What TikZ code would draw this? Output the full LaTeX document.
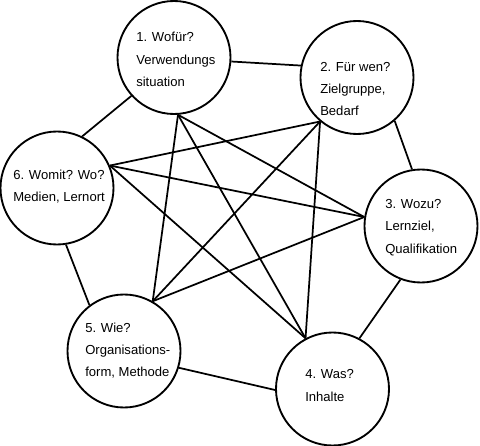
\documentclass[tikz,border=0pt]{standalone}
\usepackage{fontspec}
\setmainfont{Liberation Sans}

\begin{document}
\begin{tikzpicture}[x=0.75pt,y=-0.75pt,
  bubble/.style={draw,circle,line width=1.4pt,minimum size=84.75pt,inner sep=0pt},
  qtext/.style={anchor=west,align=left,inner sep=0pt,font=\fontsize{9.8}{16.7}\selectfont},
  link/.style={line width=1.3pt}]
\useasboundingbox (0,0) rectangle (480,446);
\node[bubble] (c1) at (174,57.5) {};
\node[bubble] (c2) at (357,77.5) {};
\node[bubble] (c3) at (421,226) {};
\node[bubble] (c4) at (332.5,389) {};
\node[bubble] (c5) at (124,351) {};
\node[bubble] (c6) at (57,188) {};
\node[qtext] (t1) at (136,59.5) {1. Wofür?\\Verwendungs\\situation};
\node[qtext] (t2) at (320,89) {2. Für wen?\\Zielgruppe,\\Bedarf};
\node[qtext] (t3) at (385,227.5) {3. Wozu?\\Lernziel,\\Qualifikation};
\node[qtext] (t4) at (305,385.5) {4. Was?\\Inhalte};
\node[qtext] (t5) at (85,350.5) {5. Wie?\\Organisations-\\form, Methode};
\node[qtext] (t6) at (13,186.5) {6. Womit? Wo?\\Medien, Lernort};
% outer ring
\draw[link] (c1.-4) -- (c2.168);
\draw[link] (c2.-49) -- (c3.99);
\draw[link] (c3.249) -- (c4.62);
\draw[link] (c4.181) -- (c5.-17);
\draw[link] (c5.127) -- (c6.-81);
\draw[link] (c6.64) -- (c1.222);
% inner star
\coordinate (h1) at (c1.-86);
\coordinate (h2) at (c2.230);
\coordinate (h3) at (c3.171);
\coordinate (h4) at (c4.118);
\coordinate (h5) at (c5.60);
\coordinate (h6) at (c6.23);
\foreach \a/\b in {1/3,1/4,1/5,2/4,2/5,2/6,3/5,3/6,4/6}
  \draw[link] (h\a) -- (h\b);
\end{tikzpicture}
\end{document}
